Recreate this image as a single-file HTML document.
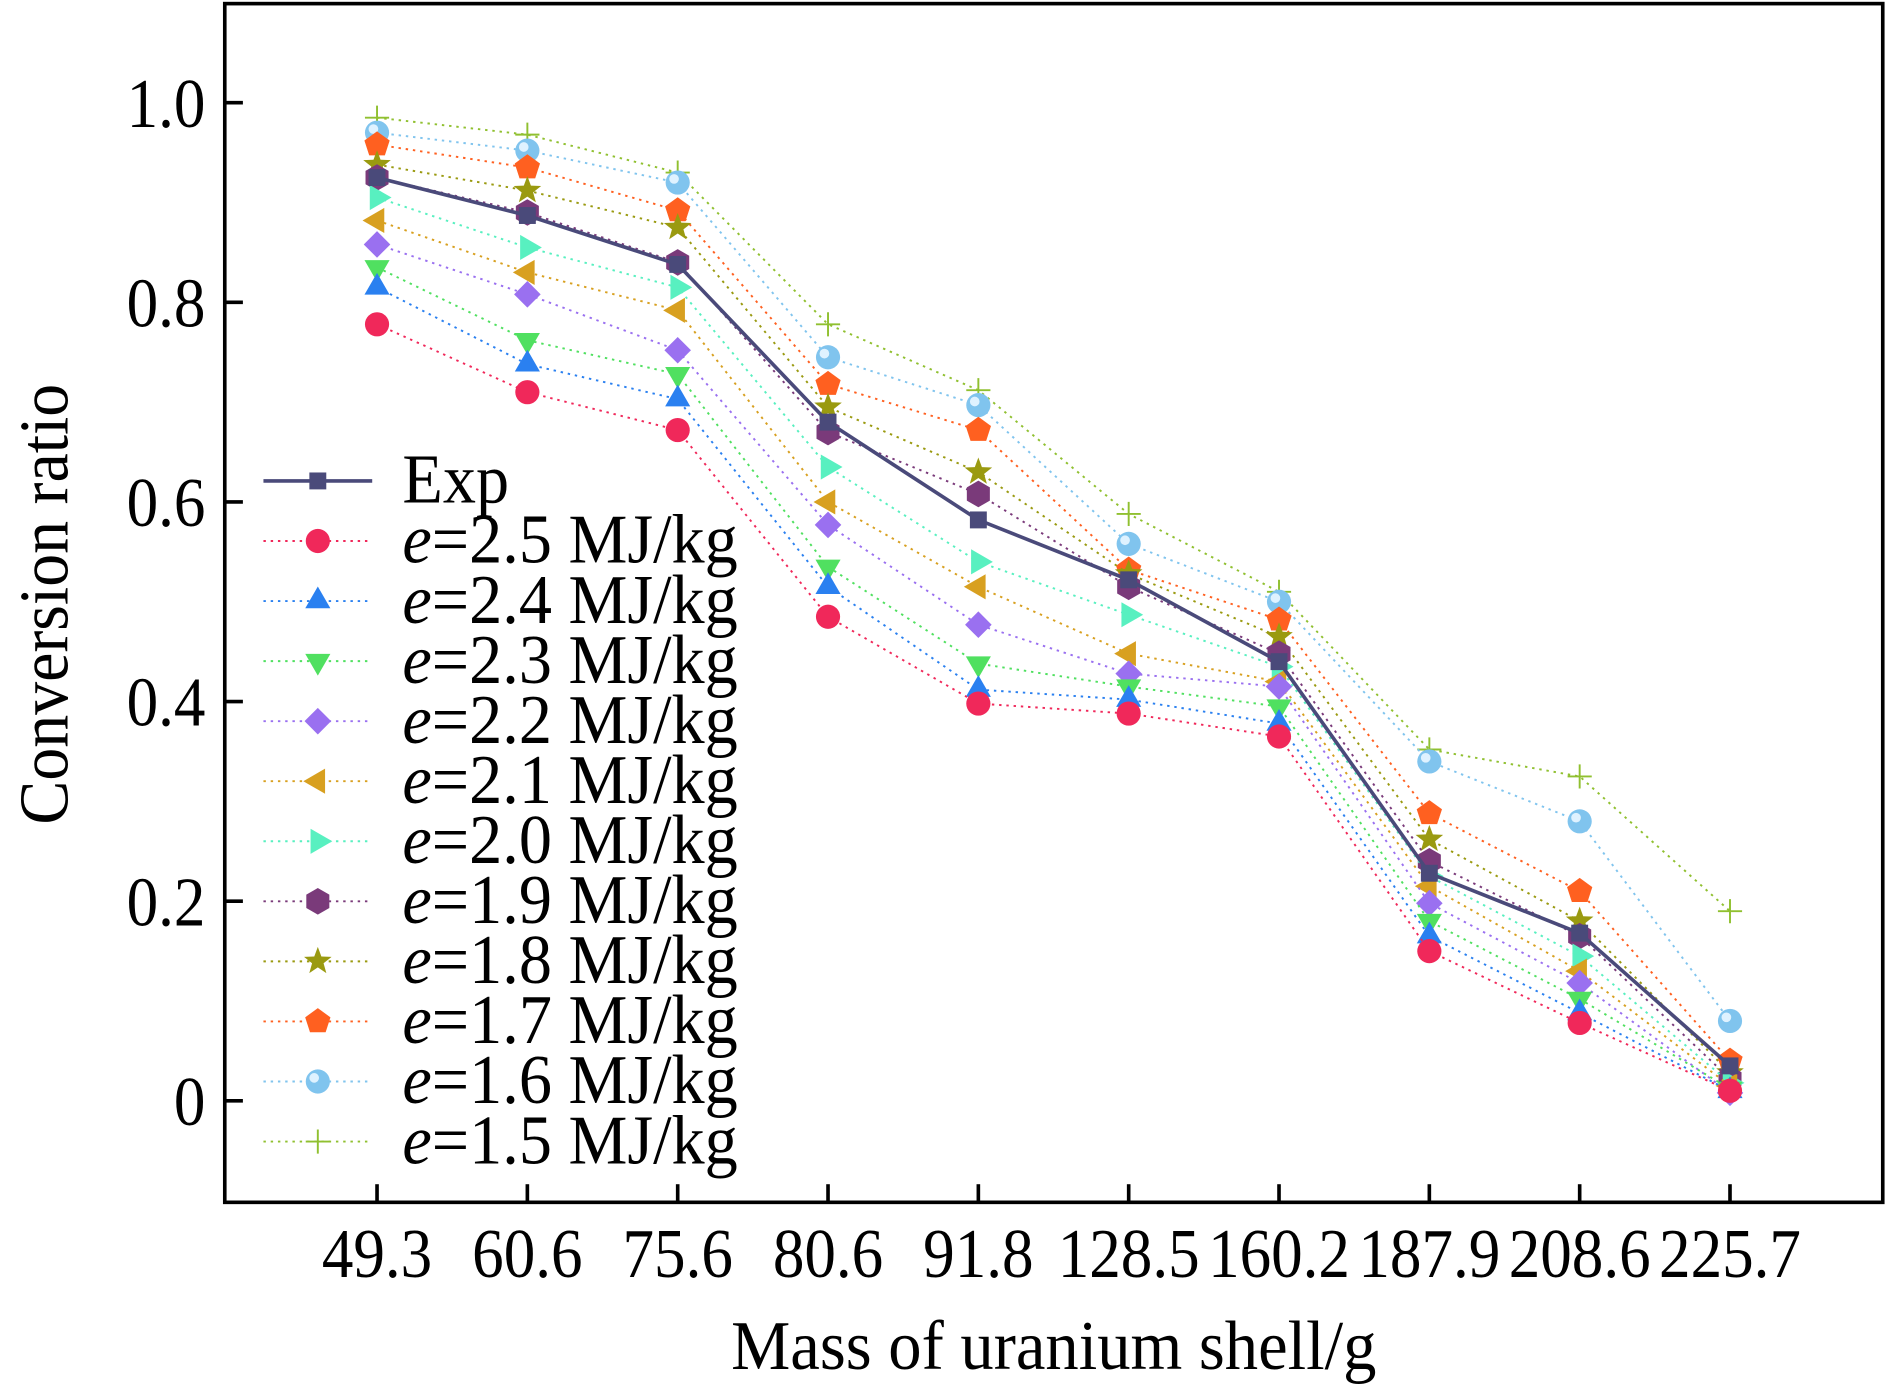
<!DOCTYPE html>
<html><head><meta charset="utf-8"><style>
html,body{margin:0;padding:0;background:#fff;}
svg{display:block;}
text{font-family:"Liberation Serif",serif;fill:#000;}
</style></head><body>
<svg id="chart" width="1890" height="1386" viewBox="0 0 1564 1147" preserveAspectRatio="none" xmlns="http://www.w3.org/2000/svg">
<g id="grid"></g>
<g id="series"></g>
<g id="axes"></g>
<g id="legend"></g>
</svg>
<script>
const categories = ["49.3","60.6","75.6","80.6","91.8","128.5","160.2","187.9","208.6","225.7"];
const yTicks = [0,0.2,0.4,0.6,0.8,1.0];
const yTickLabels = ["0","0.2","0.4","0.6","0.8","1.0"];
const seriesNames = ["Exp","e=2.5 MJ/kg","e=2.4 MJ/kg","e=2.3 MJ/kg","e=2.2 MJ/kg","e=2.1 MJ/kg","e=2.0 MJ/kg","e=1.9 MJ/kg","e=1.8 MJ/kg","e=1.7 MJ/kg","e=1.6 MJ/kg","e=1.5 MJ/kg"];
const expValues = [0.925,0.887,0.838,0.68,0.582,0.522,0.44,0.228,0.168,0.035];
const e25 = [0.778,0.71,0.672,0.485,0.398,0.388,0.365,0.15,0.078,0.01];
const e24 = [0.815,0.738,0.703,0.515,0.412,0.402,0.378,0.165,0.088,0.01];
const e23 = [0.835,0.762,0.728,0.535,0.438,0.415,0.395,0.18,0.102,0.012];
const e22 = [0.858,0.808,0.752,0.577,0.477,0.428,0.415,0.198,0.118,0.008];
const e21 = [0.882,0.83,0.792,0.6,0.515,0.448,0.42,0.215,0.13,0.015];
const e20 = [0.905,0.855,0.815,0.635,0.54,0.487,0.435,0.225,0.145,0.018];
const e19 = [0.925,0.89,0.84,0.67,0.608,0.515,0.448,0.24,0.165,0.022];
const e18 = [0.938,0.912,0.875,0.695,0.63,0.528,0.465,0.262,0.18,0.028];
const e17 = [0.958,0.935,0.892,0.718,0.672,0.532,0.482,0.288,0.21,0.04];
const e16 = [0.97,0.952,0.92,0.745,0.697,0.558,0.5,0.34,0.28,0.08];
const e15 = [0.985,0.968,0.93,0.778,0.712,0.588,0.51,0.352,0.325,0.19];

const NS="http://www.w3.org/2000/svg";
const L=186,R=1558,T=3,B=995;
const x=i=>312+i*124.4;
const y=v=>911-v*826;
function mk(tag,attrs,parent){const e=document.createElementNS(NS,tag);for(const k in attrs)e.setAttribute(k,attrs[k]);parent.appendChild(e);return e;}
function txt(parent,tx,ty,sx,anchor,size,extra){
 const g=mk("g",{transform:`translate(${tx},${ty})${extra||""} scale(${sx},1)`},parent);
 return mk("text",{x:0,y:0,"text-anchor":anchor,"font-size":size},g);
}
const styles=[
 {c:"#4a4a7a",m:"square"},
 {c:"#f0285a",m:"circle"},{c:"#2a80f0",m:"tri-up"},{c:"#50e060",m:"tri-down"},
 {c:"#9a70f0",m:"diamond"},{c:"#d8a020",m:"tri-left"},{c:"#58f0c0",m:"tri-right"},
 {c:"#7a3a7a",m:"hexagon"},{c:"#9a9a10",m:"star"},{c:"#ff6020",m:"pentagon"},
 {c:"#80c4ee",m:"sphere"},{c:"#90c030",m:"plus"}];
const data=[expValues,e25,e24,e23,e22,e21,e20,e19,e18,e17,e16,e15];
function poly(n,r,rot){let p=[];for(let k=0;k<n;k++){const a=rot+k*2*Math.PI/n;p.push((r*Math.cos(a)).toFixed(2)+","+(r*Math.sin(a)).toFixed(2));}return p.join(" ");}
function marker(g,m,cx,cy,c){
 const gg=mk("g",{transform:`translate(${cx},${cy})`},g);
 const r=10;
 switch(m){
  case "square":mk("rect",{x:-7,y:-7,width:14,height:14,fill:c},gg);break;
  case "circle":mk("circle",{r:r,fill:c},gg);break;
  case "sphere":mk("circle",{r:r,fill:c},gg);mk("circle",{cx:-3,cy:-3,r:4,fill:"#dff2ff"},gg);break;
  case "tri-up":mk("polygon",{points:poly(3,12,-Math.PI/2),fill:c},gg);break;
  case "tri-down":mk("polygon",{points:poly(3,12,Math.PI/2),fill:c},gg);break;
  case "tri-left":mk("polygon",{points:poly(3,12,Math.PI),fill:c},gg);break;
  case "tri-right":mk("polygon",{points:poly(3,12,0),fill:c},gg);break;
  case "diamond":mk("polygon",{points:poly(4,11,0),fill:c},gg);break;
  case "hexagon":mk("polygon",{points:poly(6,11,Math.PI/2),fill:c},gg);break;
  case "pentagon":mk("polygon",{points:poly(5,11,-Math.PI/2),fill:c},gg);break;
  case "star":{let p=[];for(let k=0;k<10;k++){const a=-Math.PI/2+k*Math.PI/5,rr=k%2?5:12;p.push((rr*Math.cos(a)).toFixed(2)+","+(rr*Math.sin(a)).toFixed(2));}mk("polygon",{points:p.join(" "),fill:c},gg);break;}
  case "plus":mk("path",{d:"M-10,0H10M0,-10V10",stroke:c,"stroke-width":1.6,fill:"none"},gg);break;
 }
 return gg;
}
const sg=document.getElementById("series");
for(let s=data.length-1;s>=0;s--){
 const st=styles[s],vals=data[s];
 const g=mk("g",{},sg);
 
 
 const pts=vals.map((v,i)=>x(i)+","+y(v)).join(" ");
 if(s===0) mk("polyline",{points:pts,fill:"none",stroke:st.c,"stroke-width":3},g);
 else mk("polyline",{points:pts,fill:"none",stroke:st.c,"stroke-width":1.6,"stroke-dasharray":"2 4"},g);
 vals.forEach((v,i)=>{const m=marker(g,st.m,x(i),y(v),st.c);
  
  });
}
const ax=document.getElementById("axes");
const frame=mk("rect",{x:L,y:T,width:R-L,height:B-T,fill:"none",stroke:"#000","stroke-width":3},ax);


yTicks.forEach((v,i)=>{
 mk("line",{x1:L,x2:L+15,y1:y(v),y2:y(v),stroke:"#000","stroke-width":3},ax);
 const t=txt(ax,170,y(v)+20,0.9,"end",58);t.textContent=yTickLabels[i];
 
 
});
categories.forEach((c,i)=>{
 mk("line",{x1:x(i),x2:x(i),y1:B,y2:B-15,stroke:"#000","stroke-width":3},ax);
 const t=txt(ax,x(i),1057,0.9,"middle",58);t.textContent=c;
 
 
});
const xt=txt(ax,872,1133,0.95,"middle",58);xt.textContent="Mass of uranium shell/g";


const yg=mk("g",{transform:"translate(56,500) rotate(-90) scale(0.94,1)"},ax);
const yt=mk("text",{x:0,y:0,"text-anchor":"middle","font-size":58},yg);yt.textContent="Conversion ratio";


const lg=document.getElementById("legend");
seriesNames.forEach((n,s)=>{
 const yy=398+s*49.7,st=styles[s];
 const g=mk("g",{},lg);
 
 
 if(s===0) mk("line",{x1:218,x2:308,y1:yy,y2:yy,stroke:st.c,"stroke-width":3},g);
 else mk("line",{x1:218,x2:308,y1:yy,y2:yy,stroke:st.c,"stroke-width":1.6,"stroke-dasharray":"2 4"},g);
 marker(g,st.m,263,yy,st.c);
 const t=txt(g,333,yy+18,0.945,"start",58);
 if(s===0){t.textContent="Exp";}
 else{const it=mk("tspan",{"font-style":"italic"},t);it.textContent="e";const r=mk("tspan",{},t);r.textContent=n.slice(1);}
});
</script>
</body></html>
